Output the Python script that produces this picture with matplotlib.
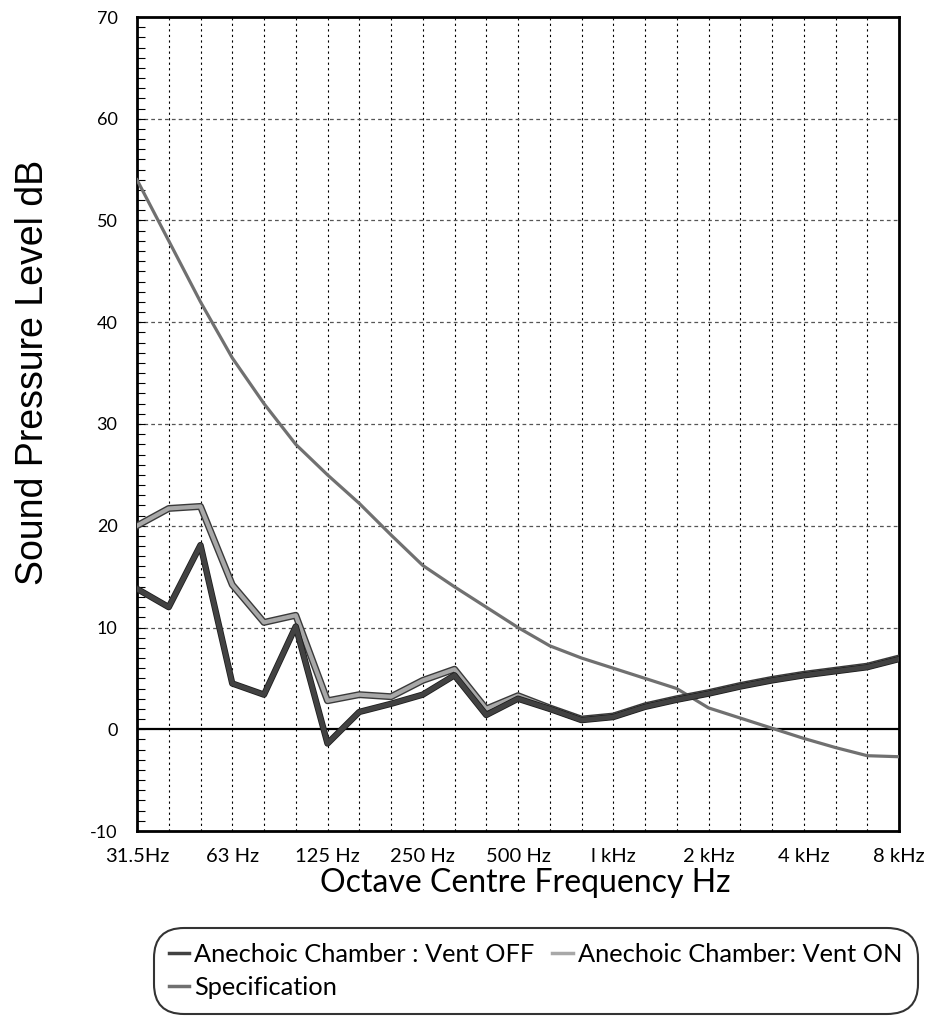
import numpy as np
import matplotlib.pyplot as plt
import matplotlib.patheffects as pe
from matplotlib.ticker import MultipleLocator

plt.rcParams["axes.unicode_minus"] = False

# third-octave bands 31.5 Hz .. 8 kHz
bands = ["31.5", "40", "50", "63", "80", "100", "125", "160", "200", "250",
         "315", "400", "500", "630", "800", "1k", "1.25k", "1.6k", "2k",
         "2.5k", "3.15k", "4k", "5k", "6.3k", "8k"]
tick_labels = ["31.5Hz", "63 Hz", "125 Hz", "250 Hz", "500 Hz",
               "l kHz", "2 kHz", "4 kHz", "8 kHz"]

vent_off = [13.8, 12.0, 18.1, 4.5, 3.4, 10.1, -1.4, 1.7, 2.5, 3.4, 5.3, 1.4,
            3.0, 2.0, 0.9, 1.2, 2.2, 2.9, 3.5, 4.2, 4.8, 5.3, 5.7, 6.1, 6.9]
vent_on = [20.0, 21.7, 21.9, 14.2, 10.5, 11.2, 2.8, 3.4, 3.2, 4.8, 5.9, 2.0,
           3.3, 2.1, 1.0, 1.3, 2.3, 3.0, 3.6, 4.3, 4.9, 5.4, 5.8, 6.2, 7.0]
spec = [54.0, 48.0, 42.0, 36.5, 32.0, 28.0, 25.0, 22.2, 19.1, 16.1, 14.0, 12.0,
        10.0, 8.2, 7.0, 6.0, 5.0, 4.0, 2.1, 1.1, 0.1, -0.9, -1.8, -2.6, -2.7]

x = np.arange(len(bands))

fig = plt.figure(figsize=(9.33, 10.18), dpi=100)
ax = fig.add_axes([137/933, 1-831/1018, (899-137)/933, (831-17)/1018])

# grid
for xi in x[1:-1]:
    ax.axvline(xi, color="black", lw=0.8, ls=(0, (2, 3)), zorder=1)
for yv in range(10, 70, 10):
    ax.axhline(yv, color="#555555", lw=0.9, ls=(0, (3, 2.5)), zorder=1)
ax.axhline(0, color="black", lw=1.6, zorder=2)

l_spec, = ax.plot(x, spec, color="#707070", lw=2.3, zorder=3,
                  label="Specification")
l_on, = ax.plot(x, vent_on, color="#a8a8a8", lw=3.0, zorder=4,
                label="Anechoic Chamber: Vent ON",
                path_effects=[pe.Stroke(linewidth=5.0, foreground="#3a3a3a"), pe.Normal()])
l_off, = ax.plot(x, vent_off, color="#424242", lw=3.4, zorder=5,
                 label="Anechoic Chamber : Vent OFF",
                 path_effects=[pe.Stroke(linewidth=4.6, foreground="#1e1e1e"), pe.Normal()])

ax.set_xlim(0, 24)
ax.set_ylim(-10, 70)
ax.set_xticks(x[::3])
ax.set_xticklabels(tick_labels, fontsize=14.5, family="Lato")
ax.tick_params(axis="x", length=0, pad=12)
ax.yaxis.set_major_locator(MultipleLocator(10))
ax.yaxis.set_minor_locator(MultipleLocator(1))
ax.tick_params(axis="y", which="both", direction="in", length=6, width=0.8,
               labelsize=13, pad=14)
for t in ax.get_yticklabels():
    t.set_family("Lato")
for s in ax.spines.values():
    s.set_linewidth(2.0)

fig.text(33/933, 1-372/1018, "Sound Pressure Level dB", rotation=90,
         ha="center", va="center", fontsize=27, family="Liberation Sans")
fig.text(525/933, 1-883/1018, "Octave Centre Frequency Hz",
         ha="center", va="center", fontsize=23, family="Lato")

leg = fig.legend([l_off, l_spec, l_on],
                 ["Anechoic Chamber : Vent OFF", "Specification",
                  "Anechoic Chamber: Vent ON"],
                 ncol=2, loc="upper left", bbox_to_anchor=(146/933, 1-920/1018),
                 prop={"family": "Lato", "size": 18.3}, handlelength=0.8,
                 handletextpad=0.2, columnspacing=0.7, labelspacing=0.4,
                 borderpad=0.4, frameon=True, fancybox=True)
fr = leg.get_frame()
fr.set_edgecolor("black")
fr.set_linewidth(1.5)
fr.set_boxstyle("round,pad=0.2,rounding_size=1.2")
for h in leg.legend_handles:
    h.set_path_effects([])
    h.set_linewidth(2.5)

fig.savefig("out.png", dpi=100)
